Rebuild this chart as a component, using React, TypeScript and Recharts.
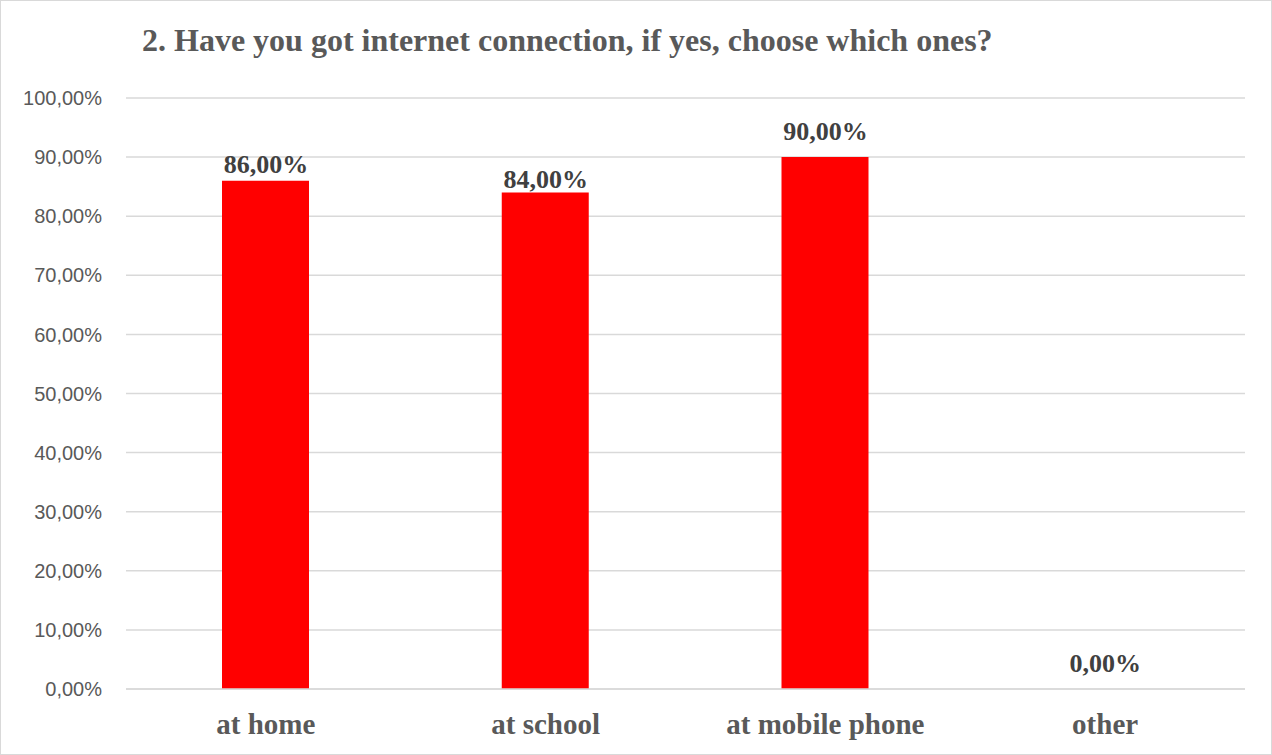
import { Bar, CartesianGrid, ComposedChart, LabelList, Line, XAxis, YAxis } from 'recharts'

const categories = ['at home', 'at school', 'at mobile phone', 'other']
const shares = [0.86, 0.84, 0.9, 0]
const yTicks = [0, 0.1, 0.2, 0.3, 0.4, 0.5, 0.6, 0.7, 0.8, 0.9, 1]

const data = categories.map((name, i) => ({ name, value: shares[i] }))

const SERIF = '"Liberation Serif", "Times New Roman", serif'
const SANS = '"Liberation Sans", Arial, sans-serif'

// gap between bar top and label baseline, excel nudges some labels higher
const labelLift = [8, 5, 17, 17]

const pct = (v: number) => (v * 100).toFixed(2).replace('.', ',') + '%'

function ValueLabel(props: any) {
  const { x, y, value, index } = props
  const lift = labelLift[index] ?? 8
  return (
    <text
      x={x}
      y={y - lift}
      textAnchor="middle"
      fontFamily={SERIF}
      fontWeight="bold"
      fontSize={26}
      fill="#404040"
    >
      {pct(value)}
    </text>
  )
}

export default function App() {
  return (
    <div
      style={{
        position: 'absolute',
        left: 0,
        top: 0,
        width: 1272,
        height: 755,
        background: '#fff',
        border: '1px solid #d9d9d9',
        boxSizing: 'border-box',
      }}
    >
      <svg
        width={1272}
        height={70}
        style={{ position: 'absolute', left: -1, top: -1, pointerEvents: 'none' }}
      >
        <text x={142} y={51} fontFamily={SERIF} fontWeight="bold" fontSize={32} fill="#595959">
          2. Have you got internet connection, if yes, choose which ones?
        </text>
      </svg>
      <div style={{ position: 'absolute', left: -1, top: -1 }}>
        <ComposedChart
          width={1272}
          height={755}
          data={data}
          margin={{ top: 98, right: 27, bottom: 36, left: 0 }}
        >
          <CartesianGrid vertical={false} stroke="#d9d9d9" strokeWidth={1.5} />
          <XAxis
            dataKey="name"
            height={30}
            axisLine={{ stroke: '#d9d9d9', strokeWidth: 1.5 }}
            tickLine={false}
            tickMargin={18}
            tick={{ fontFamily: SERIF, fontWeight: 'bold', fontSize: 29, fill: '#595959' }}
          />
          <YAxis
            width={126}
            domain={[0, 1]}
            ticks={yTicks}
            tickFormatter={pct}
            axisLine={false}
            tickLine={false}
            tickMargin={18}
            tick={{ fontFamily: SANS, fontSize: 20, fill: '#595959' }}
          />
          <Bar dataKey="value" fill="#ff0000" barSize={87} isAnimationActive={false} />
          <Line
            dataKey="value"
            stroke="none"
            dot={false}
            activeDot={false}
            legendType="none"
            isAnimationActive={false}
          >
            <LabelList dataKey="value" content={<ValueLabel />} />
          </Line>
        </ComposedChart>
      </div>
    </div>
  )
}
